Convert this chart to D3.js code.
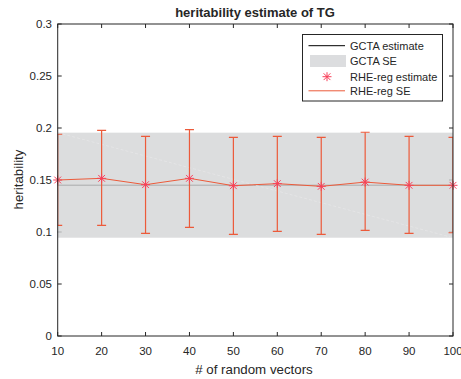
<!DOCTYPE html>
<html>
<head>
<meta charset="utf-8">
<script src="https://cdn.jsdelivr.net/npm/d3@7"></script>
<style>
    body { margin: 0; background: #fff; }
    text { font-family: "Liberation Sans", Arial, sans-serif; fill: #262626; }
</style>
</head>
<body>
<svg width="461" height="379"></svg>
<script>
const vectors = [10, 20, 30, 40, 50, 60, 70, 80, 90, 100];
const rheEst = [0.150, 0.1516, 0.1455, 0.1516, 0.1445, 0.1465, 0.1439, 0.148, 0.1449, 0.1449];
const rheHi = [0.194, 0.1978, 0.192, 0.1984, 0.191, 0.192, 0.191, 0.1959, 0.192, 0.191];
const rheLo = [0.1064, 0.1064, 0.0987, 0.1045, 0.0978, 0.1006, 0.0978, 0.1016, 0.0987, 0.0993];
const gctaEst = 0.145;
const gctaSE = 0.0505;
const xTicks = [10, 20, 30, 40, 50, 60, 70, 80, 90, 100];
const yTicks = [0, 0.05, 0.1, 0.15, 0.2, 0.25, 0.3];
const legendLabels = ["GCTA estimate", "GCTA SE", "RHE-reg estimate", "RHE-reg SE"];

const orange = "#ec5a3a";
const starColor = "#f8405a";

const svg = d3.select("svg");
const x = d3.scaleLinear().domain([10, 100]).range([57.7, 453]);
const y = d3.scaleLinear().domain([0, 0.3]).range([336, 24]);

svg.append("defs").append("clipPath").attr("id", "clip")
    .append("rect")
    .attr("x", x(10)).attr("y", y(0.3))
    .attr("width", x(100) - x(10)).attr("height", y(0) - y(0.3));

// ticks (inward, on all four sides)
const ticks = svg.append("g").attr("stroke", "#262626").attr("stroke-width", 1);
xTicks.forEach(t => {
    ticks.append("line").attr("x1", x(t)).attr("x2", x(t)).attr("y1", y(0)).attr("y2", y(0) - 4);
    ticks.append("line").attr("x1", x(t)).attr("x2", x(t)).attr("y1", y(0.3)).attr("y2", y(0.3) + 4);
});
yTicks.forEach(t => {
    ticks.append("line").attr("x1", x(10)).attr("x2", x(10) + 4).attr("y1", y(t)).attr("y2", y(t));
    ticks.append("line").attr("x1", x(100)).attr("x2", x(100) - 4).attr("y1", y(t)).attr("y2", y(t));
});

const plot = svg.append("g").attr("clip-path", "url(#clip)");

// GCTA estimate line, then SE band drawn semi-transparent over it
plot.append("line")
    .attr("x1", x(10)).attr("x2", x(100))
    .attr("y1", y(gctaEst)).attr("y2", y(gctaEst))
    .attr("stroke", "#000").attr("stroke-width", 1);

plot.append("rect")
    .attr("x", x(10)).attr("width", x(100) - x(10))
    .attr("y", y(gctaEst + gctaSE)).attr("height", y(gctaEst - gctaSE) - y(gctaEst + gctaSE))
    .attr("fill", "#d3d4d6").attr("fill-opacity", 0.8);

// faint patch diagonal
plot.append("line")
    .attr("x1", x(10)).attr("y1", y(gctaEst + gctaSE))
    .attr("x2", x(100)).attr("y2", y(gctaEst - gctaSE))
    .attr("stroke", "#e6e6e7").attr("stroke-width", 0.8).attr("stroke-dasharray", "3,2");

// RHE-reg line
plot.append("path")
    .datum(vectors.map((v, i) => [v, rheEst[i]]))
    .attr("fill", "none").attr("stroke", orange).attr("stroke-width", 1)
    .attr("d", d3.line().x(d => x(d[0])).y(d => y(d[1])));

// error bars
const eb = plot.append("g").attr("stroke", orange).attr("stroke-width", 1.2);
vectors.forEach((v, i) => {
    eb.append("line").attr("x1", x(v)).attr("x2", x(v)).attr("y1", y(rheLo[i])).attr("y2", y(rheHi[i]));
    eb.append("line").attr("x1", x(v) - 4.5).attr("x2", x(v) + 4.5).attr("y1", y(rheLo[i])).attr("y2", y(rheLo[i]));
    eb.append("line").attr("x1", x(v) - 4.5).attr("x2", x(v) + 4.5).attr("y1", y(rheHi[i])).attr("y2", y(rheHi[i]));
});

// star markers
function star(cx, cy, r) {
    const p = d3.path();
    const d = r * 0.75;
    p.moveTo(cx - r, cy); p.lineTo(cx + r, cy);
    p.moveTo(cx, cy - r); p.lineTo(cx, cy + r);
    p.moveTo(cx - d, cy - d); p.lineTo(cx + d, cy + d);
    p.moveTo(cx - d, cy + d); p.lineTo(cx + d, cy - d);
    return p.toString();
}
svg.append("g").selectAll("path")
    .data(vectors)
    .enter().append("path")
    .attr("d", (v, i) => star(x(v), y(rheEst[i]), 4.5))
    .attr("fill", "none").attr("stroke", starColor).attr("stroke-width", 1);

// box
svg.append("rect")
    .attr("x", x(10)).attr("y", y(0.3))
    .attr("width", x(100) - x(10)).attr("height", y(0) - y(0.3))
    .attr("fill", "none").attr("stroke", "#262626").attr("stroke-width", 1);

// tick labels
svg.append("g").selectAll("text")
    .data(xTicks).enter().append("text")
    .attr("x", d => x(d)).attr("y", 355)
    .attr("text-anchor", "middle").attr("font-size", 11.5)
    .text(d => d);

svg.append("g").selectAll("text")
    .data(yTicks).enter().append("text")
    .attr("x", 52).attr("y", d => y(d) + 4)
    .attr("text-anchor", "end").attr("font-size", 11.5)
    .text(d => d);

// labels
svg.append("text")
    .attr("x", 255).attr("y", 17)
    .attr("text-anchor", "middle").attr("font-size", 13).attr("font-weight", "bold")
    .text("heritability estimate of TG");

svg.append("text")
    .attr("x", 254).attr("y", 374)
    .attr("text-anchor", "middle").attr("font-size", 13.3)
    .text("# of random vectors");

svg.append("text")
    .attr("transform", `translate(23.3, 179.5) rotate(-90)`)
    .attr("text-anchor", "middle").attr("font-size", 13.3)
    .text("heritability");

// legend
const legend = svg.append("g").attr("transform", "translate(302.5, 34.5)");
legend.append("rect")
    .attr("width", 140).attr("height", 66.5)
    .attr("fill", "#fff").attr("stroke", "#262626").attr("stroke-width", 1);
const rowY = [11.2, 26.5, 42.2, 56.3];
legend.append("line").attr("x1", 6).attr("x2", 42.5).attr("y1", rowY[0]).attr("y2", rowY[0])
    .attr("stroke", "#000").attr("stroke-width", 1);
legend.append("rect").attr("x", 7.5).attr("width", 36).attr("y", rowY[1] - 6).attr("height", 12)
    .attr("fill", "#dcdddf");
legend.append("path").attr("d", star(24.5, rowY[2], 4.5))
    .attr("fill", "none").attr("stroke", starColor).attr("stroke-width", 1);
legend.append("line").attr("x1", 6).attr("x2", 42.5).attr("y1", rowY[3]).attr("y2", rowY[3])
    .attr("stroke", orange).attr("stroke-width", 1);
legend.selectAll("text.lab")
    .data(legendLabels).enter().append("text")
    .attr("class", "lab")
    .attr("x", 47.5).attr("y", (d, i) => rowY[i] + 4)
    .attr("font-size", 11)
    .text(d => d);
</script>
</body>
</html>
